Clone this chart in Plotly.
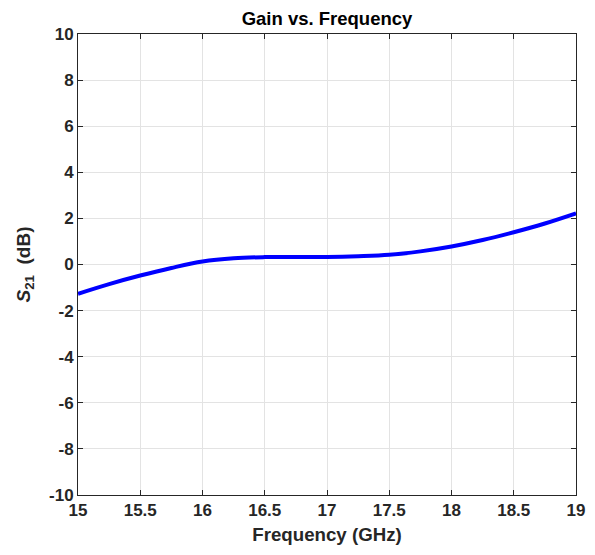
import plotly.graph_objects as go

freq = [15.0, 15.25, 15.5, 15.75, 16.0, 16.25, 16.5, 16.75, 17.0, 17.25, 17.5, 17.75, 18.0, 18.25, 18.5, 18.75, 19.0]
s21 = [-1.27, -0.85, -0.48, -0.15, 0.13, 0.27, 0.32, 0.33, 0.33, 0.36, 0.42, 0.57, 0.78, 1.06, 1.40, 1.78, 2.22]

x_ticks = [15, 15.5, 16, 16.5, 17, 17.5, 18, 18.5, 19]
x_tick_labels = ["15", "15.5", "16", "16.5", "17", "17.5", "18", "18.5", "19"]
y_ticks = [-10, -8, -6, -4, -2, 0, 2, 4, 6, 8, 10]
y_tick_labels = ["-10", "-8", "-6", "-4", "-2", "0", "2", "4", "6", "8", "10"]

font = "Liberation Sans, Arial, sans-serif"
ink = "#262626"

fig = go.Figure()
fig.add_trace(go.Scatter(x=freq, y=s21, mode="lines",
                         line=dict(color="#0000FF", width=4, shape="spline", smoothing=1.0),
                         showlegend=False))

axis_common = dict(
    showline=True, linecolor=ink, linewidth=1, mirror="ticks",
    ticks="inside", ticklen=5, tickcolor=ink,
    showgrid=True, gridcolor="#E3E3E3", gridwidth=1, zeroline=False,
    tickfont=dict(family=font, size=17, color=ink, weight="bold"),
)
fig.update_xaxes(range=[15, 19], tickvals=x_ticks, ticktext=x_tick_labels,
                 title=dict(text="<b>Frequency (GHz)</b>",
                            font=dict(family=font, size=18.7, color=ink), standoff=8),
                 **axis_common)
fig.update_yaxes(range=[-10, 10], tickvals=y_ticks, ticktext=y_tick_labels,
                 title=dict(text="<b><i>S</i><sub>21</sub>&nbsp; (dB)</b>",
                            font=dict(family=font, size=19, color=ink), standoff=13),
                 **axis_common)
fig.update_layout(
    width=587, height=547,
    margin=dict(l=70, r=19, t=26, b=60, autoexpand=False),
    paper_bgcolor="white", plot_bgcolor="white",
    title=dict(text="<b>Gain vs. Frequency</b>", x=0.5, xref="paper", xanchor="center",
               y=1, yref="paper", yanchor="bottom", pad=dict(b=9),
               font=dict(family=font, size=18.5, color="black")),
)
fig.write_html("out.html")
